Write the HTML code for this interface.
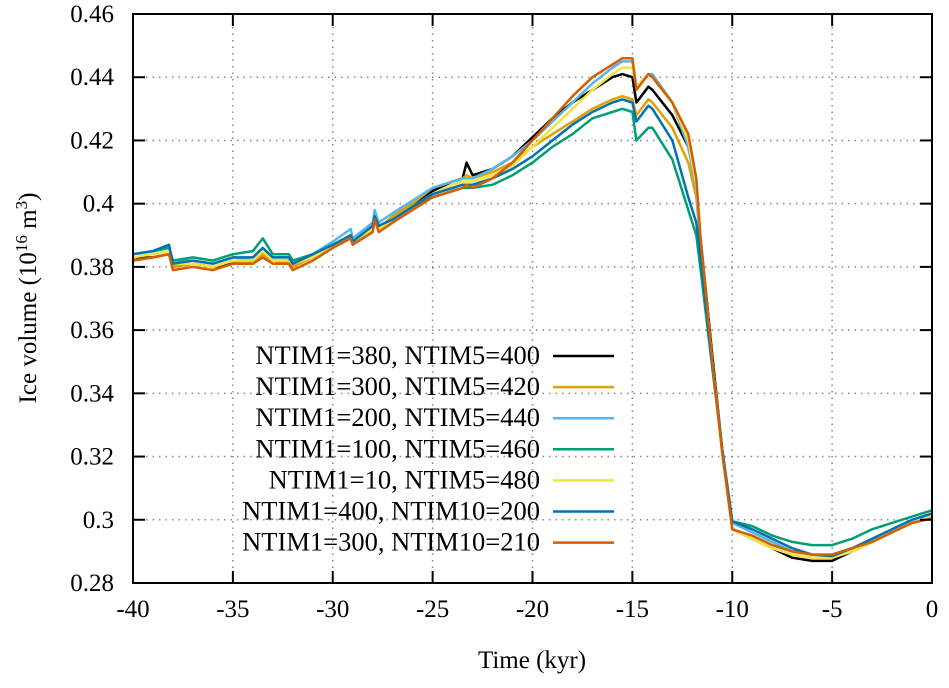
<!DOCTYPE html>
<html><head><meta charset="utf-8"><style>
body{margin:0;background:#fff}
svg text{font-family:"Liberation Serif",serif;font-size:25px;fill:#000}
#legend text{font-size:26.5px}
</style></head><body>
<svg id="chart" width="949" height="683" xmlns="http://www.w3.org/2000/svg">
<g id="grid"></g>
<g id="series"></g>
<rect x="133" y="14" width="799" height="569" fill="none" stroke="#000" stroke-width="2"/>
<g id="axes"></g>
<text x="532" y="668" text-anchor="middle">Time (kyr)</text>
<text transform="translate(36,298) rotate(-90)" text-anchor="middle">Ice volume (10<tspan baseline-shift="super" font-size="17">16</tspan> m<tspan baseline-shift="super" font-size="17">3</tspan>)</text>
<g id="legend"></g>
</svg>
<script>
const T=[-40,-39,-38.2,-38,-37,-36,-35,-34,-33.5,-33,-32.2,-32,-31,-30,-29.1,-29,-28,-27.9,-27.7,-27,-26,-25,-24,-23.5,-23.3,-23,-22,-21,-20,-19,-18,-17,-16,-15.5,-15,-14.8,-14.2,-14,-13,-12.2,-11.8,-11.6,-11,-10.5,-10,-9,-8,-7,-6,-5,-4,-3,-2,-1,0];
const sBlack=[.383,.383,.384,.380,.381,.380,.381,.382,.384,.382,.382,.381,.383,.387,.390,.388,.392,.395,.392,.396,.400,.404,.407,.408,.413,.409,.411,.415,.421,.427,.432,.436,.440,.441,.440,.432,.437,.436,.428,.418,.406,.390,.352,.322,.297,.294,.291,.288,.287,.287,.290,.293,.296,.299,.3005];
const sOrange=[.382,.383,.384,.380,.381,.380,.382,.381,.384,.382,.381,.380,.383,.387,.390,.388,.393,.396,.392,.396,.400,.405,.407,.408,.409,.408,.410,.413,.418,.422,.426,.430,.433,.434,.433,.428,.433,.432,.424,.413,.402,.388,.350,.322,.297,.294,.291,.289,.288,.288,.290,.293,.296,.299,.301];
const sLightBlue=[.384,.385,.386,.382,.382,.381,.383,.382,.385,.383,.383,.381,.384,.388,.392,.389,.394,.398,.394,.397,.401,.405,.407,.408,.408,.408,.411,.415,.420,.426,.432,.438,.443,.445,.445,.437,.441,.441,.432,.418,.404,.388,.350,.321,.299,.296,.293,.290,.289,.289,.291,.293,.296,.299,.301];
const sGreen=[.384,.385,.386,.382,.383,.382,.384,.385,.389,.384,.384,.382,.384,.387,.390,.388,.392,.395,.392,.395,.399,.402,.404,.405,.405,.405,.406,.409,.413,.418,.422,.427,.429,.430,.429,.420,.424,.424,.414,.398,.390,.380,.348,.322,.2995,.298,.295,.293,.292,.292,.294,.297,.299,.301,.303];
const sYellow=[.383,.384,.385,.381,.381,.380,.382,.382,.385,.382,.382,.381,.383,.387,.389,.388,.392,.396,.392,.395,.399,.403,.406,.407,.407,.407,.409,.412,.418,.424,.430,.436,.441,.443,.443,.437,.441,.440,.432,.420,.406,.390,.350,.321,.297,.294,.291,.289,.288,.288,.290,.293,.296,.299,.301];
const sBlue=[.384,.385,.387,.381,.382,.381,.383,.383,.386,.383,.383,.381,.384,.387,.390,.388,.393,.396,.393,.395,.399,.403,.405,.406,.406,.406,.408,.411,.415,.420,.425,.429,.432,.433,.432,.426,.431,.430,.420,.402,.394,.384,.349,.322,.2995,.297,.294,.291,.289,.2885,.291,.294,.297,.300,.302];
const sRed=[.382,.383,.384,.379,.380,.379,.381,.381,.383,.381,.381,.379,.382,.386,.389,.387,.391,.395,.391,.394,.398,.402,.404,.405,.406,.405,.408,.413,.420,.427,.434,.440,.444,.446,.446,.436,.441,.440,.432,.422,.408,.390,.350,.321,.297,.295,.292,.290,.289,.289,.291,.293,.296,.299,.3005];
const names=["NTIM1=380, NTIM5=400","NTIM1=300, NTIM5=420","NTIM1=200, NTIM5=440","NTIM1=100, NTIM5=460","NTIM1=10, NTIM5=480","NTIM1=400, NTIM10=200","NTIM1=300, NTIM10=210"];
const colors=["#000000","#e69f00","#56b4e9","#009e73","#f0e442","#0072b2","#d55e00"];
const xTicks=[-40,-35,-30,-25,-20,-15,-10,-5,0];
const yTicks=[0.28,0.3,0.32,0.34,0.36,0.38,0.4,0.42,0.44,0.46];
const NS="http://www.w3.org/2000/svg";
const X0=133,X1=932,Y0=583,Y1=14;
const xs=t=>X0+(t+40)/40*(X1-X0);
const ys=v=>Y0-(v-0.28)/0.18*(Y0-Y1);
function mk(tag,attrs,parent){const e=document.createElementNS(NS,tag);for(const k in attrs)e.setAttribute(k,attrs[k]);parent.appendChild(e);return e;}
const grid=document.getElementById('grid'),axes=document.getElementById('axes');
xTicks.forEach(t=>{
 const x=xs(t);
 if(t>-40&&t<0){const l=mk('line',{x1:x,x2:x,y1:Y1,y2:Y0,stroke:'#888','stroke-width':1.5,'stroke-dasharray':'1.5,5'},grid);
 }
 const tk=mk('line',{x1:x,x2:x,y1:Y0,y2:Y0-12,stroke:'#000','stroke-width':2},axes);
 
 const tk2=mk('line',{x1:x,x2:x,y1:Y1,y2:Y1+12,stroke:'#000','stroke-width':2},axes);
 
 const tx=mk('text',{x:x,y:617,'text-anchor':'middle'},axes);tx.textContent=String(t);
 
});
yTicks.forEach(v=>{
 const y=ys(v);
 if(v>0.281&&v<0.459){const l=mk('line',{x1:X0,x2:X1,y1:y,y2:y,stroke:'#888','stroke-width':1.5,'stroke-dasharray':'1.5,5'},grid);
 }
 const tk=mk('line',{x1:X0,x2:X0+12,y1:y,y2:y,stroke:'#000','stroke-width':2},axes);
 
 const tk2=mk('line',{x1:X1,x2:X1-12,y1:y,y2:y,stroke:'#000','stroke-width':2},axes);
 
 const tx=mk('text',{x:114,y:y+8,'text-anchor':'end'},axes);tx.textContent=String(Math.round(v*100)/100);
 
});
const all=[sBlack,sOrange,sLightBlue,sGreen,sYellow,sBlue,sRed];
const sg=document.getElementById('series'),lg=document.getElementById('legend');
all.forEach((s,i)=>{
 const d=s.map((v,j)=>(j?'L':'M')+xs(T[j]).toFixed(1)+','+ys(v).toFixed(1)).join('');
 const p=mk('path',{d:d,fill:'none',stroke:colors[i],'stroke-width':2.5,'stroke-linejoin':'round'},sg);
 
 const ly=356+i*31.1;
 const tx=mk('text',{x:540,y:ly+8,'text-anchor':'end'},lg);tx.textContent=names[i];
 
 const ln=mk('line',{x1:553,x2:614,y1:ly,y2:ly,stroke:colors[i],'stroke-width':2.5},lg);
 
});
</script>
</body></html>
